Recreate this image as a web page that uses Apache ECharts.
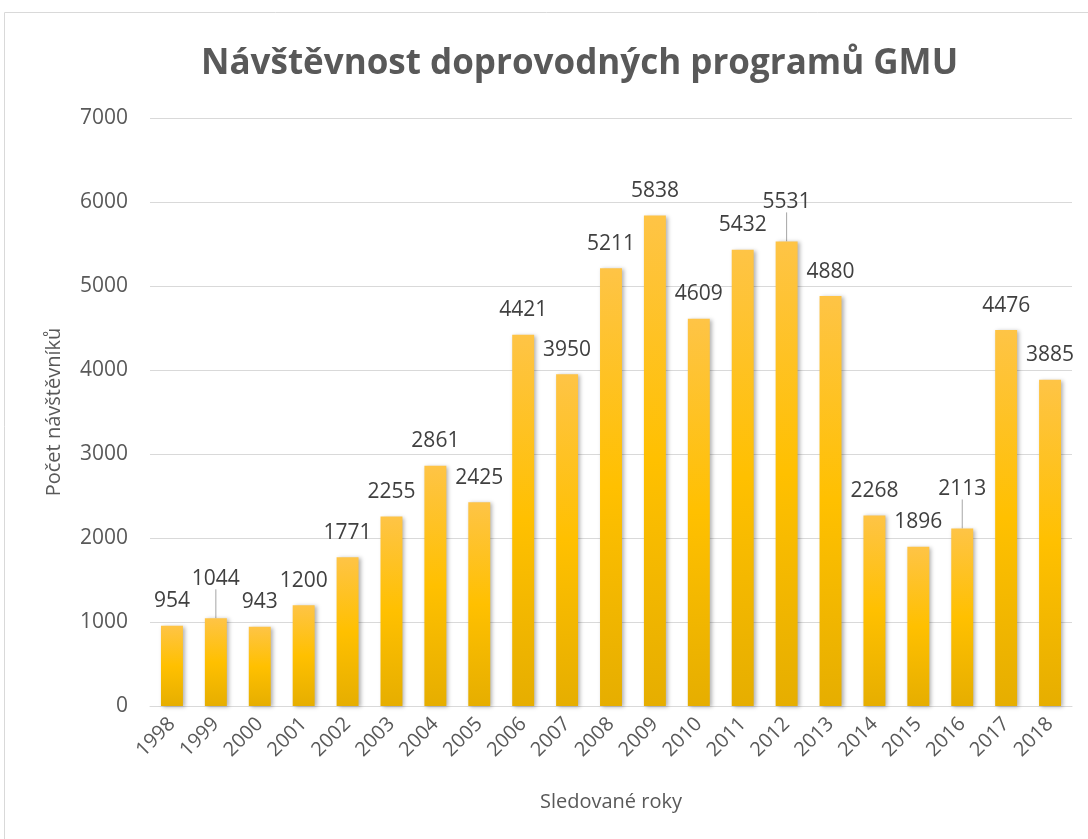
<!DOCTYPE html>
<html>
<head>
<meta charset="utf-8">
<script src="https://cdn.jsdelivr.net/npm/echarts@6/dist/echarts.min.js"></script>
<style>
  html, body { margin: 0; padding: 0; background: #fff; }
  #chart { width: 1088px; height: 839px; }
</style>
</head>
<body>
<div id="chart"></div>
<script>
// data
var years = ['1998','1999','2000','2001','2002','2003','2004','2005','2006','2007','2008',
             '2009','2010','2011','2012','2013','2014','2015','2016','2017','2018'];
var visitors = [954,1044,943,1200,1771,2255,2861,2425,4421,3950,5211,
                5838,4609,5432,5531,4880,2268,1896,2113,4476,3885];
// labels pushed up with a leader line
var raisedYears = ['1999','2012','2016'];

var font = 'Open Sans';
var grey = '#595959';

var chart = echarts.init(document.getElementById('chart'));

var barData = [];
for(var i=0;i<visitors.length;i++){
  var item = {value: visitors[i]};
  if(raisedYears.indexOf(years[i]) > -1){
    item.labelLine = {show: true};
  }
  barData.push(item);
}

var option = {
  animation: false,
  title: {
    text: 'Návštěvnost doprovodných programů GMU',
    left: 196,
    top: 42,
    textStyle: {fontFamily: font, fontSize: 35, fontWeight: 'bold', color: grey}
  },
  graphic: [
    {
      type: 'rect',
      shape: {x: 4.5, y: 12.5, width: 1200, height: 1000},
      style: {fill: 'none', stroke: '#d9d9d9', lineWidth: 1},
      silent: true
    }
  ],
  grid: {left: 150, right: 16, top: 118, bottom: 133},
  xAxis: {
    type: 'category',
    data: years,
    name: 'Sledované roky',
    nameLocation: 'middle',
    nameGap: 86,
    nameTextStyle: {fontFamily: font, fontSize: 20, color: grey},
    axisLine: {lineStyle: {color: '#d9d9d9', width: 1}},
    axisTick: {show: false},
    axisLabel: {rotate: 45, margin: 15, fontFamily: font, fontSize: 20, color: grey, interval: 0}
  },
  yAxis: {
    type: 'value',
    min: 0,
    max: 7000,
    interval: 1000,
    name: 'Počet návštěvníků',
    nameLocation: 'middle',
    nameGap: 86,
    nameTextStyle: {fontFamily: font, fontSize: 20, color: grey},
    axisLine: {show: false},
    axisTick: {show: false},
    splitLine: {lineStyle: {color: '#d9d9d9', width: 1}},
    axisLabel: {
      margin: 22, fontFamily: font, fontSize: 21, color: grey,
      formatter: function(v){ return String(v); }
    }
  },
  series: [{
    type: 'bar',
    barWidth: '50%',
    data: barData,
    itemStyle: {
      color: new echarts.graphic.LinearGradient(0, 0, 0, 1, [
        {offset: 0, color: '#fec446'},
        {offset: 0.5, color: '#ffc000'},
        {offset: 1, color: '#e6ae00'}
      ]),
      shadowColor: 'rgba(0,0,0,0.3)',
      shadowBlur: 4,
      shadowOffsetX: 2,
      shadowOffsetY: 1
    },
    label: {
      show: true,
      position: 'top',
      distance: 14,
      fontFamily: font,
      fontSize: 21,
      color: '#404040'
    },
    labelLine: {lineStyle: {color: '#a6a6a6', width: 1}},
    labelLayout: function(params){
      if(raisedYears.indexOf(years[params.dataIndex]) > -1){
        return {dy: -15};
      }
    }
  }]
};
chart.setOption(option);
</script>
</body>
</html>
